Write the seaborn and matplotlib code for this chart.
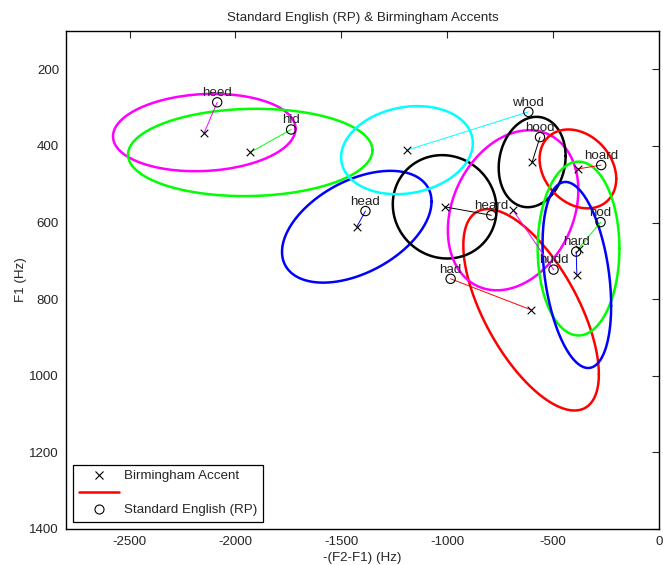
import numpy as np
import matplotlib
matplotlib.use("Agg")
import matplotlib.pyplot as plt
from matplotlib.lines import Line2D
import seaborn as sns

sns.set_style("white")
plt.rcParams['font.family'] = ['Liberation Sans', 'DejaVu Sans']
plt.rcParams['axes.unicode_minus'] = False

# vowels and the colour each one is drawn in
words = ["heed", "hid", "head", "had", "heard", "hudd", "hood", "whod", "hoard", "hod", "hard"]
colours = ["#ff00ff", "#00ff00", "#0000ff", "#ff0000", "#000000", "#ff00ff",
           "#000000", "#00ffff", "#ff0000", "#00ff00", "#0000ff"]

# Birmingham accent means: -(F2-F1) and F1
brum_x = [-2147, -1930, -1427, -604, -1012, -689, -599, -1190, -383, -380, -388]
brum_y = [365, 417, 611, 828, 559, 568, 442, 411, 460, 668, 737]

# Standard English (RP) values
rp_x = [-2086, -1737, -1386, -984, -792, -498, -562, -617, -273, -276, -391]
rp_y = [286, 357, 570, 747, 581, 723, 377, 311, 450, 599, 676]

# spread of the Birmingham tokens: half width, half height, correlation
spread_x = [431, 577, 353, 320, 245, 308, 158, 311, 181, 193, 162]
spread_y = [101, 114, 146, 263, 135, 209, 118, 115, 103, 227, 243]
corr = [-0.1, -0.05, -0.45, 0.64, 0.05, -0.25, -0.13, -0.16, 0.25, 0.0, 0.33]

fs = 9.6

fig, ax = plt.subplots(figsize=(6.63, 5.65), dpi=100)
fig.subplots_adjust(left=0.0995, right=0.994, top=0.945, bottom=0.064)

t = np.linspace(0, 2 * np.pi, 200)
for i in range(len(words)):
    ex = brum_x[i] + spread_x[i] * np.cos(t)
    ey = brum_y[i] + spread_y[i] * (corr[i] * np.cos(t) + np.sqrt(1 - corr[i] ** 2) * np.sin(t))
    ax.plot(ex, ey, color=colours[i], lw=1.8, zorder=2)
    ax.plot([brum_x[i], rp_x[i]], [brum_y[i], rp_y[i]], color=colours[i], lw=0.7, zorder=3)

sns.scatterplot(x=brum_x, y=brum_y, marker="x", color="k", s=30, linewidth=0.8, ax=ax, zorder=4)
sns.scatterplot(x=rp_x, y=rp_y, marker="o", facecolor="none", edgecolor="k", s=45, linewidth=0.8, ax=ax, zorder=4)

for i, w in enumerate(words):
    ax.annotate(w, (rp_x[i], rp_y[i]), xytext=(0, 4.5), textcoords="offset points",
                ha="center", va="baseline", fontsize=fs, color="#222222", zorder=5)

ax.set_xlim(-2800, 0)
ax.set_ylim(1400, 100)
ax.set_xticks([-2500, -2000, -1500, -1000, -500, 0])
ax.set_yticks([200, 400, 600, 800, 1000, 1200, 1400])
ax.tick_params(direction="in", length=5, width=0.8, labelsize=fs, top=True, right=True, pad=5)
for s in ax.spines.values():
    s.set_visible(True)
    s.set_color("k")
    s.set_linewidth(1.0)

ax.set_title("Standard English (RP) & Birmingham Accents", fontsize=fs, pad=7)
ax.set_xlabel("-(F2-F1) (Hz)", fontsize=fs, labelpad=3)
ax.set_ylabel("F1 (Hz)", fontsize=fs, labelpad=2)

handles = [
    Line2D([], [], ls="none", marker="x", color="k", markersize=6, markeredgewidth=0.8),
    Line2D([], [], color="#ff0000", lw=1.8),
    Line2D([], [], ls="none", marker="o", mfc="none", mec="k", markersize=6.5, markeredgewidth=0.8),
]
leg = ax.legend(handles, ["Birmingham Accent", "", "Standard English (RP)"], loc="lower left",
                fontsize=fs, frameon=True, fancybox=False, edgecolor="k", framealpha=1,
                handlelength=3.0, handletextpad=0.4, labelspacing=0.35, borderpad=0.4,
                borderaxespad=0.55)
leg.get_frame().set_linewidth(0.9)

fig.savefig("out.png", dpi=100)
